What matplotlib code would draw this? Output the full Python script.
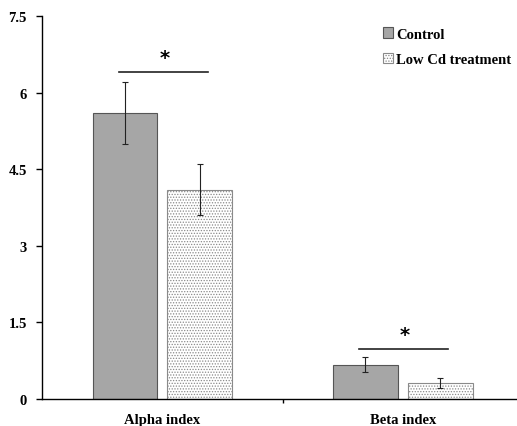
"""Alpha and beta index under control vs low Cd treatment (grouped bar)."""

import matplotlib
matplotlib.use("Agg")
import matplotlib.pyplot as plt
import numpy as np

categories = ["Alpha index", "Beta index"]
control = [5.6, 0.67]
control_err = [0.6, 0.15]
low_cd = [4.1, 0.31]
low_cd_err = [0.5, 0.1]
sig_levels = [6.4, 0.98]
y_ticks = [0, 1.5, 3, 4.5, 6, 7.5]
y_ticklabels = ["0", "1.5", "3", "4.5", "6", "7.5"]

plt.rcParams.update({
    "font.family": "Liberation Serif",
    "font.weight": "bold",
    "font.size": 10.5,
    "hatch.color": "#8a8a8a",
    "hatch.linewidth": 0.6,
})

fig = plt.figure(figsize=(5.17, 4.27), dpi=100)
ax = fig.add_axes([42 / 517, 27 / 427, 475 / 517, 383 / 427])

x = np.arange(len(categories))
width = 0.27
offset = 0.155

ax.bar(x - offset, control, width, color="#a6a6a6", edgecolor="#555555",
       linewidth=0.8, label="Control")
ax.bar(x + offset, low_cd, width, color="white", edgecolor="#8a8a8a",
       linewidth=0.8, hatch="......", label="Low Cd treatment")
ax.errorbar(x - offset, control, yerr=control_err, fmt="none", ecolor="#222222",
            elinewidth=0.8, capsize=2, capthick=0.8)
ax.errorbar(x + offset, low_cd, yerr=low_cd_err, fmt="none", ecolor="#222222",
            elinewidth=0.8, capsize=2, capthick=0.8)

# Significance bars with asterisks
for xi, level in zip(x, sig_levels):
    ax.plot([xi - 0.18, xi + 0.19], [level, level], color="#222222", linewidth=1.2)
    ax.text(xi + 0.01, level + 0.1, "*", ha="center", va="bottom",
            fontsize=14, fontweight="bold", family="DejaVu Sans")

ax.set_xlim(-0.5, 1.475)
ax.set_ylim(0, 7.5)
ax.set_yticks(y_ticks)
ax.set_yticklabels(y_ticklabels)
ax.tick_params(axis="y", direction="out", length=4, width=1, pad=7)

# Category names on minor ticks, one small divider tick between groups
ax.set_xticks([0.5])
ax.set_xticklabels([""])
ax.set_xticks(x, minor=True)
ax.set_xticklabels(categories, minor=True)
ax.tick_params(axis="x", which="major", direction="out", length=3, width=1)
ax.tick_params(axis="x", which="minor", length=0, pad=10)

for side in ["top", "right"]:
    ax.spines[side].set_visible(False)
ax.spines["left"].set_linewidth(1)
ax.spines["bottom"].set_linewidth(1)

ax.legend(frameon=False, loc="upper left", bbox_to_anchor=(0.717, 0.97),
          handlelength=0.7, handleheight=0.7, handletextpad=0.25,
          labelspacing=0.85, borderaxespad=0, borderpad=0)

fig.savefig("out.png", dpi=100)
plt.close(fig)
